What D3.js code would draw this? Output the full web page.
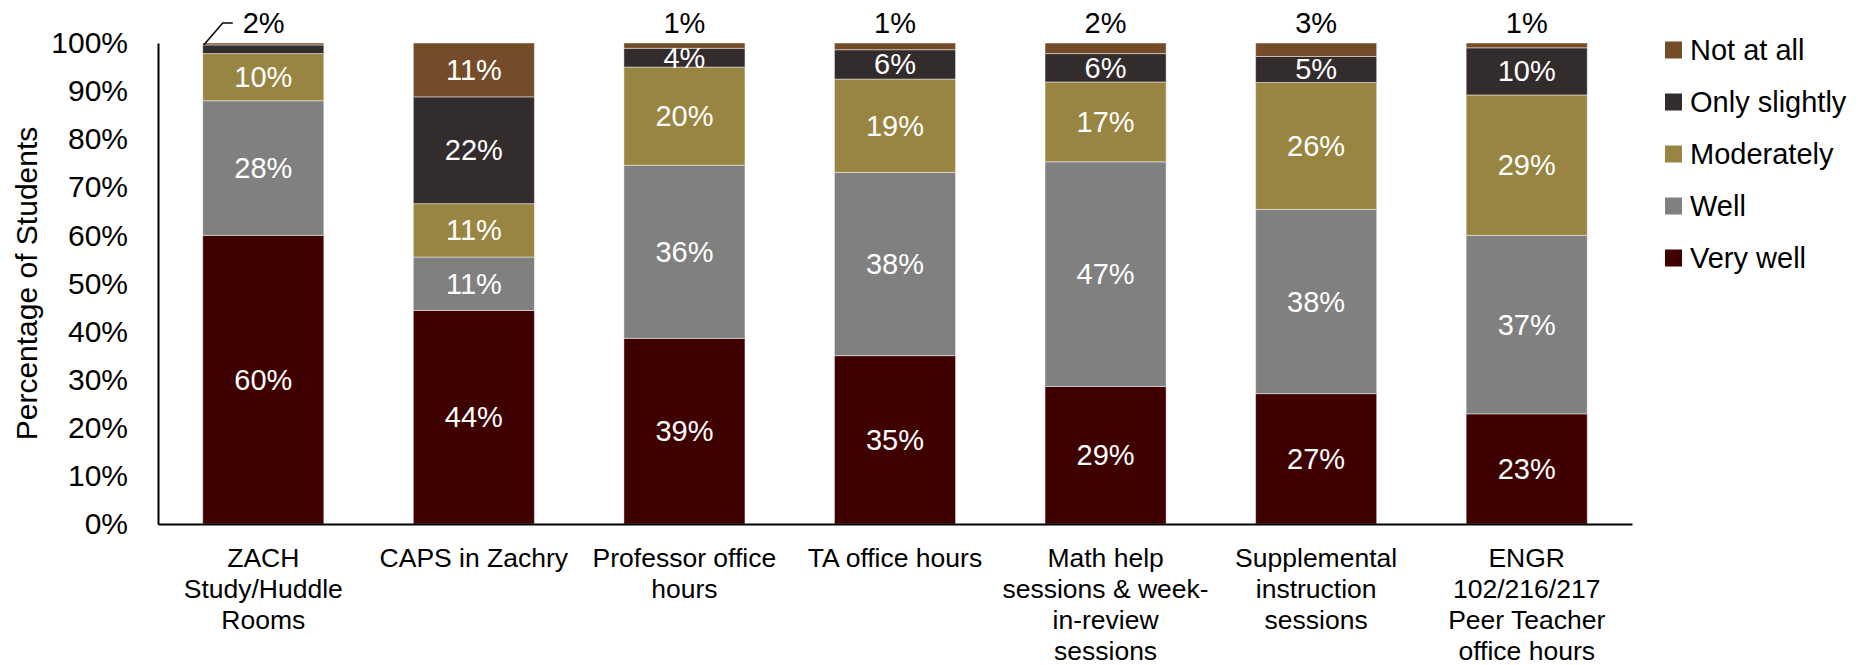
<!DOCTYPE html>
<html>
<head>
<meta charset="utf-8">
<script src="https://cdn.jsdelivr.net/npm/d3@7"></script>
<style>
  html, body { margin: 0; padding: 0; background: #fff; }
  svg { display: block; font-family: "Liberation Sans", Arial, sans-serif; }
</style>
</head>
<body>
<svg id="chart" width="1864" height="665"></svg>
<script>
// Support resources and how well each one met students' needs (share of respondents)
const categories = [
  ["ZACH", "Study/Huddle", "Rooms"],
  ["CAPS in Zachry"],
  ["Professor office", "hours"],
  ["TA office hours"],
  ["Math help", "sessions & week-", "in-review", "sessions"],
  ["Supplemental", "instruction", "sessions"],
  ["ENGR", "102/216/217", "Peer Teacher", "office hours"]
];
const seriesNames = ["Very well", "Well", "Moderately", "Only slightly", "Not at all"];
const veryWell     = [60.0, 44.4, 38.6, 35.0, 28.6, 27.1, 22.9];
const well         = [28.0, 11.1, 36.0, 38.1, 46.7, 38.3, 37.1];
const moderately   = [ 9.8, 11.1, 20.4, 19.4, 16.6, 26.4, 29.2];
const onlySlightly = [ 1.8, 22.2,  3.9,  6.1,  5.9,  5.4,  9.8];
const notAtAll     = [ 0.4, 11.2,  1.1,  1.4,  2.2,  2.8,  1.0];
const yTicks = [0, 10, 20, 30, 40, 50, 60, 70, 80, 90, 100];
const colors = ["#3f0000", "#808080", "#998542", "#332c2c", "#754c29"];

const seriesValues = [veryWell, well, moderately, onlySlightly, notAtAll];
const rows = categories.map((c, i) => {
  const r = { key: i };
  seriesNames.forEach((s, j) => { r[s] = seriesValues[j][i]; });
  return r;
});

const svg = d3.select("#chart");
const margin = { left: 158, right: 232, top: 43, bottom: 141 };
const W = 1864, H = 665;

const x = d3.scaleBand()
  .domain(categories.map((c, i) => i))
  .range([margin.left, W - margin.right])
  .paddingInner(0.425)
  .paddingOuter(0.2125);
const y = d3.scaleLinear().domain([0, 100]).range([H - margin.bottom, margin.top]);

const stack = d3.stack().keys(seriesNames);
const stacked = stack(rows);

// bars
const layers = svg.append("g").selectAll("g")
  .data(stacked).join("g")
  .attr("fill", (d, i) => colors[i]);

layers.selectAll("rect")
  .data(d => d.map(p => ({ p, key: d.key })))
  .join("rect")
  .attr("x", d => x(d.p.data.key))
  .attr("width", x.bandwidth())
  .attr("y", d => y(d.p[1]))
  .attr("height", d => y(d.p[0]) - y(d.p[1]))
  .attr("stroke", "#ffffff")
  .attr("stroke-opacity", 0.45)
  .attr("stroke-width", 1);

// value labels
const labelG = svg.append("g").attr("font-size", 29);
stacked.forEach((layer, li) => {
  layer.forEach(p => {
    const v = p[1] - p[0];
    const rounded = Math.round(v);
    if (rounded === 0) return;
    const cx = x(p.data.key) + x.bandwidth() / 2;
    const isTop = li === stacked.length - 1;
    if (v >= 3.5) {
      labelG.append("text")
        .attr("x", cx).attr("y", y((p[0] + p[1]) / 2))
        .attr("text-anchor", "middle").attr("dominant-baseline", "central")
        .attr("fill", "#ffffff")
        .text(rounded + "%");
    } else if (isTop) {
      labelG.append("text")
        .attr("x", cx).attr("y", y(100) - 20)
        .attr("text-anchor", "middle").attr("dominant-baseline", "central")
        .attr("fill", "#000000")
        .text(rounded + "%");
    } else {
      // small inner segment: label above the bar with a leader line
      const x0 = x(p.data.key);
      const ly = y(100) - 20;
      svg.append("polyline")
        .attr("points", [[x0 + 1, y(p[1])], [x0 + 20, ly], [x0 + 30, ly]].map(q => q.join(",")).join(" "))
        .attr("fill", "none").attr("stroke", "#000").attr("stroke-width", 1.5);
      labelG.append("text")
        .attr("x", x0 + 40).attr("y", ly)
        .attr("text-anchor", "start").attr("dominant-baseline", "central")
        .attr("fill", "#000000")
        .text(rounded + "%");
    }
  });
});

// y axis
const yAxis = d3.axisLeft(y).tickValues(yTicks).tickFormat(d => d + "%").tickSize(0).tickPadding(30);
const yg = svg.append("g").attr("transform", `translate(${margin.left},0)`).call(yAxis);
yg.select(".domain").attr("stroke", "#000").attr("stroke-width", 2);
yg.selectAll("text").attr("font-size", 30).attr("fill", "#000")
  .attr("font-family", "Liberation Sans, Arial, sans-serif");

// x axis
const xAxis = d3.axisBottom(x).tickSize(0).tickFormat("");
const xg = svg.append("g").attr("transform", `translate(0,${H - margin.bottom})`).call(xAxis);
xg.select(".domain").attr("stroke", "#000").attr("stroke-width", 2);

// category labels
const catG = svg.append("g").attr("font-size", 26.5).attr("fill", "#000");
categories.forEach((lines, i) => {
  const t = catG.append("text")
    .attr("x", x(i) + x.bandwidth() / 2)
    .attr("y", 558)
    .attr("text-anchor", "middle")
    .attr("dominant-baseline", "central");
  lines.forEach((ln, k) => {
    t.append("tspan").attr("x", x(i) + x.bandwidth() / 2).attr("dy", k === 0 ? 0 : 31).text(ln);
  });
});

// y title
svg.append("text")
  .attr("transform", `translate(26,${(y(0) + y(100)) / 2}) rotate(-90)`)
  .attr("text-anchor", "middle").attr("dominant-baseline", "central")
  .attr("font-size", 30).attr("fill", "#000")
  .text("Percentage of Students");

// legend (top series first)
const legend = svg.append("g").attr("transform", "translate(1665,50)");
seriesNames.slice().reverse().forEach((name, k) => {
  const idx = seriesNames.indexOf(name);
  const g = legend.append("g").attr("transform", `translate(0,${k * 52})`);
  g.append("rect").attr("x", 0).attr("y", -8.5).attr("width", 17).attr("height", 17).attr("fill", colors[idx]);
  g.append("text").attr("x", 25).attr("y", 0).attr("dominant-baseline", "central")
    .attr("font-size", 29).attr("fill", "#000").text(name);
});
</script>
</body>
</html>
